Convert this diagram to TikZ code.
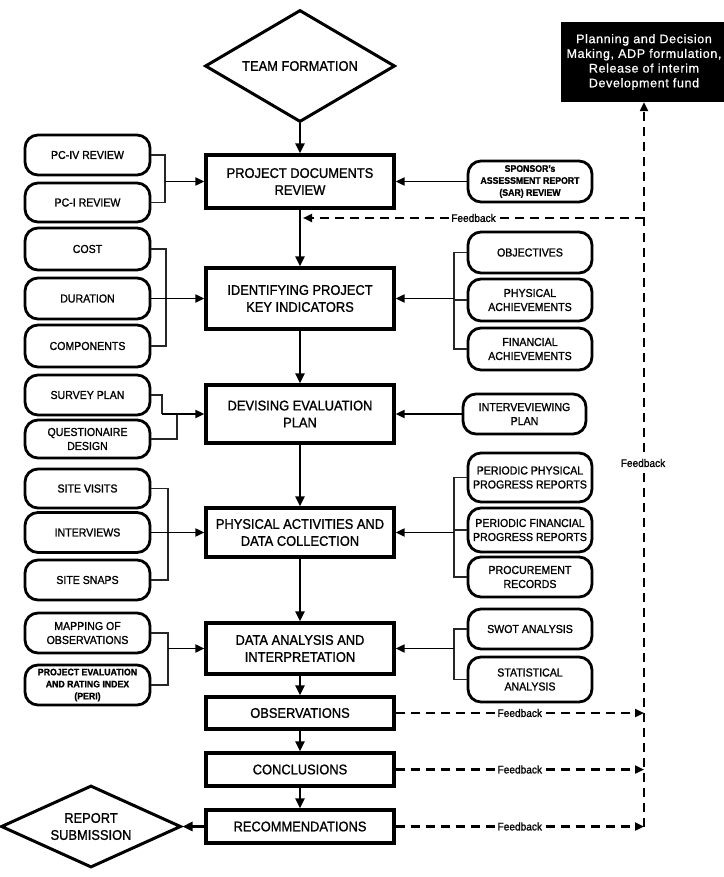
\documentclass[tikz,border=0pt]{standalone}
\usepackage{fontspec}
\setmainfont{Liberation Sans}[FakeStretch=0.92,FakeBold=1.2]
\newfontfamily\bbfont{Liberation Sans}[LetterSpace=5,FakeBold=0.6]
\usetikzlibrary{arrows.meta,shapes.geometric}
\begin{document}
\begin{tikzpicture}[x=1pt,y=-1pt,
  mainbox/.style={draw, line width=3.2pt, minimum width=188pt, inner sep=0pt, align=center, font=\fontsize{14}{17}\selectfont},
  sidebox/.style={draw, line width=2.8pt, rounded corners=13pt, minimum width=125pt, inner sep=0pt, align=center, font=\fontsize{11.5}{14}\selectfont},
  smallbox/.style={sidebox, font=\bfseries\fontsize{9.5}{12}\selectfont},
  decision/.style={draw, diamond, line width=3pt, inner sep=0pt, align=center, font=\fontsize{14}{17}\selectfont},
  flow/.style={line width=2.8pt, -{Triangle[length=10pt,width=9pt]}},
  inflow/.style={line width=1.8pt, -{Triangle[length=9pt,width=8pt]}},
  link/.style={line width=1.1pt, draw=black!85},
  feed/.style={line width=2.2pt, dash pattern=on 9pt off 6pt},
  fbtip/.style={-{Triangle[length=9pt,width=8pt]}},
  fblabel/.style={fill=white, inner sep=1pt, font=\fontsize{11}{13}\selectfont}
]
\useasboundingbox (0,0) rectangle (723,877);

% main column
\node[decision, shape aspect=1.7, minimum width=190pt, minimum height=112pt] (team) at (300,66) {TEAM FORMATION};
\node[mainbox, minimum height=53pt] (pdr) at (300,181.5) {PROJECT DOCUMENTS\\REVIEW};
\node[mainbox, minimum height=61pt] (ipki) at (300,298.5) {IDENTIFYING PROJECT\\KEY INDICATORS};
\node[mainbox, minimum height=58pt] (dep) at (300,414) {DEVISING EVALUATION\\PLAN};
\node[mainbox, minimum height=49pt] (padc) at (300,532.5) {PHYSICAL ACTIVITIES AND\\DATA COLLECTION};
\node[mainbox, minimum height=51pt] (dai) at (300,648.5) {DATA ANALYSIS AND\\INTERPRETATION};
\node[mainbox, minimum height=32pt] (obs) at (300,713) {OBSERVATIONS};
\node[mainbox, minimum height=33pt] (con) at (300,769.5) {CONCLUSIONS};
\node[mainbox, minimum height=33pt] (rec) at (300,826.5) {RECOMMENDATIONS};
\node[decision, shape aspect=2.2, minimum width=180pt, minimum height=82pt] (rep) at (91,826.5) {REPORT\\SUBMISSION};

% black box
\node[fill=black, text=white, minimum width=166pt, minimum height=80pt, inner sep=0pt, align=center,
  font=\bbfont\fontsize{12.5}{14.7}\selectfont] (plan) at (644,62)
  {Planning and Decision\\Making, ADP formulation,\\Release of interim\\Development fund};

% left boxes
\node[sidebox, minimum height=40pt] (pc4) at (87.5,155) {PC-IV REVIEW};
\node[sidebox, minimum height=39pt] (pc1) at (87.5,202.5) {PC-I REVIEW};
\node[sidebox, minimum height=42pt] (cost) at (87.5,249) {COST};
\node[sidebox, minimum height=41pt] (dur) at (87.5,298.5) {DURATION};
\node[sidebox, minimum height=42pt] (comp) at (87.5,346) {COMPONENTS};
\node[sidebox, minimum height=40pt] (survey) at (87.5,395) {SURVEY PLAN};
\node[sidebox, minimum height=38pt] (quest) at (87.5,439) {QUESTIONAIRE\\DESIGN};
\node[sidebox, minimum height=39pt] (sitev) at (87.5,488.5) {SITE VISITS};
\node[sidebox, minimum height=40pt] (intv) at (87.5,532.5) {INTERVIEWS};
\node[sidebox, minimum height=40pt] (snaps) at (87.5,580) {SITE SNAPS};
\node[sidebox, minimum height=40pt] (mapobs) at (87.5,633) {MAPPING OF\\OBSERVATIONS};
\node[smallbox, minimum height=40pt] (peri) at (87.5,685) {PROJECT EVALUATION\\AND RATING INDEX\\(PERI)};

% right boxes
\node[smallbox, minimum width=124pt, minimum height=41pt] (sar) at (530,181.5) {SPONSOR's\\ASSESSMENT REPORT\\(SAR) REVIEW};
\node[sidebox, minimum width=124pt, minimum height=41pt] (obj) at (530,252.5) {OBJECTIVES};
\node[sidebox, minimum width=124pt, minimum height=42pt] (phys) at (530,300) {PHYSICAL\\ACHIEVEMENTS};
\node[sidebox, minimum width=124pt, minimum height=42pt] (fin) at (530,349) {FINANCIAL\\ACHIEVEMENTS};
\node[sidebox, minimum width=123pt, minimum height=40pt] (intplan) at (524.5,414) {INTERVEVIEWING\\PLAN};
\node[sidebox, minimum width=124pt, minimum height=49pt] (ppr) at (530,477.5) {PERIODIC PHYSICAL\\PROGRESS REPORTS};
\node[sidebox, minimum width=124pt, minimum height=44pt] (pfr) at (530,530) {PERIODIC FINANCIAL\\PROGRESS REPORTS};
\node[sidebox, minimum width=124pt, minimum height=40pt] (proc) at (530,577) {PROCUREMENT\\RECORDS};
\node[sidebox, minimum width=124pt, minimum height=40pt] (swot) at (530,629) {SWOT ANALYSIS};
\node[sidebox, minimum width=124pt, minimum height=45pt] (stat) at (530,679.5) {STATISTICAL\\ANALYSIS};

% main flow
\draw[flow] (team) -- (pdr);
\draw[flow] (pdr) -- (ipki);
\draw[flow] (ipki) -- (dep);
\draw[flow] (dep) -- (padc);
\draw[flow] (padc) -- (dai);
\draw[flow] (dai) -- (obs);
\draw[flow] (obs) -- (con);
\draw[flow] (con) -- (rec);
\draw[flow] (rec) -- (rep);

% bracket coordinates
\coordinate (b1) at (165,181.5);
\coordinate (b2) at (166,298.5);
\coordinate (b3) at (162,414);
\coordinate (b3q) at (177,414);
\coordinate (b4) at (168,532.5);
\coordinate (b5) at (168,648.5);
\coordinate (r2) at (454,298.5);
\coordinate (r4) at (454,532.5);
\coordinate (r5) at (454,648.5);

% left inputs
\draw[link] (pc4.east) -| (b1) |- (pc1.east);
\draw[inflow] (b1) -- (pdr.west);
\draw[link] (cost.east) -| (b2) |- (comp.east);
\draw[inflow] (dur.east) -- (ipki.west);
\draw[link, line width=1.8pt] (survey.east) -| (b3);
\draw[link] (quest.east) -| (b3q);
\draw[inflow] (b3) -- (dep.west);
\draw[link] (sitev.east) -| (b4) |- (snaps.east);
\draw[inflow] (intv.east) -- (padc.west);
\draw[link] (mapobs.east) -| (b5) |- (peri.east);
\draw[inflow] (b5) -- (dai.west);

% right inputs
\draw[inflow] (sar.west) -- (pdr.east);
\draw[link] (obj.west) -| (r2) |- (fin.west);
\draw[link] (phys.west) -- (phys.west -| r2);
\draw[inflow] (r2) -- (ipki.east);
\draw[inflow] (intplan.west) -- (dep.east);
\draw[link] (ppr.west) -| (r4) |- (proc.west);
\draw[link] (pfr.west) -- (pfr.west -| r4);
\draw[inflow] (r4) -- (padc.east);
\draw[link] (swot.west) -| (r5) |- (stat.west);
\draw[inflow] (r5) -- (dai.east);

% feedback
\coordinate (fbb) at (644,826.5);
\coordinate (fbt) at (644,218);
\coordinate (mainfb) at (300,218);
\draw[feed, fbtip] (fbb) -- (plan.south);
\draw[feed, fbtip] (fbt) -- node[fblabel] {Feedback} ([xshift=3pt]mainfb);
\draw[feed, fbtip] (obs.east) -- node[fblabel] {Feedback} (obs.east -| fbb);
\draw[feed, fbtip] (con.east) -- node[fblabel] {Feedback} (con.east -| fbb);
\draw[feed, fbtip] (rec.east) -- node[fblabel] {Feedback} (rec.east -| fbb);
\node[fblabel] (fbv) at (643,463) {Feedback};
\end{tikzpicture}
\end{document}
